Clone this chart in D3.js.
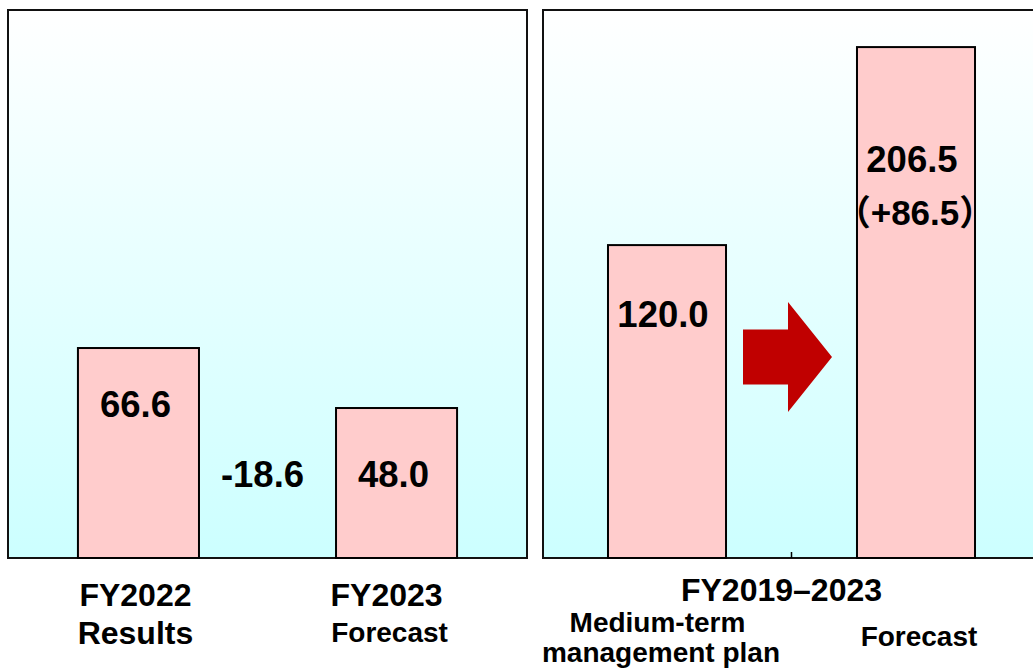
<!DOCTYPE html>
<html>
<head>
<meta charset="utf-8">
<script src="https://cdn.jsdelivr.net/npm/d3@7"></script>
<style>
  html, body { margin: 0; padding: 0; background: #fff; }
  svg { display: block; }
  text { font-family: Arial, "Liberation Sans", "Noto Sans CJK JP", sans-serif; font-weight: bold; fill: #000; }
</style>
</head>
<body>
<svg id="chart" width="1033" height="671"></svg>
<script>
// ---- Data ----
const leftCategories = ["FY2022 Results", "FY2023 Forecast"];
const leftValues = [66.6, 48.0];
const leftTickLines = [["FY2022", "Results"], ["FY2023", "Forecast"]];
const leftDiffLabel = "-18.6";

const rightGroup = "FY2019–2023";
const rightSeries = ["Medium-term management plan", "Forecast"];
const rightValues = [120.0, 206.5];
const rightSeriesLines = [["Medium-term", "management plan"], ["Forecast"]];
const rightDiffLabel = "（+86.5）";

// ---- Layout ----
const svg = d3.select("#chart");
const plotTop = 10, plotBottom = 558;
const leftPanel = { x0: 8, x1: 527 };
const rightPanel = { x0: 543, x1: 1040 };
const fmt = d3.format(".1f");
const valueFont = 36.5, catFont = 32, subFont = 28;

const defs = svg.append("defs");
const grad = defs.append("linearGradient").attr("id", "bg").attr("x1", 0).attr("y1", 0).attr("x2", 0).attr("y2", 1);
grad.append("stop").attr("offset", "0%").attr("stop-color", "#ffffff");
grad.append("stop").attr("offset", "100%").attr("stop-color", "#ccffff");

// Scales
const xL = d3.scaleBand().domain(leftCategories).range([leftPanel.x0, leftPanel.x1])
  .paddingInner(0.531).paddingOuter(0.271);
const yL = d3.scaleLinear().domain([1.5, 171.4]).range([plotBottom, plotTop]);

const xR = d3.scaleBand().domain(rightSeries).range([rightPanel.x0, rightPanel.x1])
  .paddingInner(0.526).paddingOuter(0.261);
const gR = d3.scaleBand().domain([rightGroup]).range([rightPanel.x0, rightPanel.x1]);
const yR = d3.scaleLinear().domain([-16.7, 222.7]).range([plotBottom, plotTop]);

// Panels
[leftPanel, rightPanel].forEach(p => {
  svg.append("rect")
    .attr("x", p.x0).attr("y", plotTop)
    .attr("width", p.x1 - p.x0).attr("height", plotBottom - plotTop)
    .attr("fill", "url(#bg)").attr("stroke", "#111").attr("stroke-width", 2);
});

// Left bars
const lData = leftCategories.map((c, i) => ({ c, v: leftValues[i] }));
svg.append("g").selectAll("rect").data(lData).join("rect")
  .attr("x", d => xL(d.c)).attr("width", xL.bandwidth())
  .attr("y", d => yL(d.v)).attr("height", d => plotBottom - yL(d.v))
  .attr("fill", "#ffcccc").attr("stroke", "#000").attr("stroke-width", 2);

// Right bars
const rData = rightSeries.map((s, i) => ({ s, v: rightValues[i] }));
svg.append("g").selectAll("rect").data(rData).join("rect")
  .attr("x", d => xR(d.s)).attr("width", xR.bandwidth())
  .attr("y", d => yR(d.v)).attr("height", d => plotBottom - yR(d.v))
  .attr("fill", "#ffcccc").attr("stroke", "#000").attr("stroke-width", 2);

// Right axis tick (single group)
const axR = svg.append("g").attr("transform", `translate(0,${plotBottom})`)
  .call(d3.axisBottom(gR).tickSize(-6).tickFormat(""));
axR.select(".domain").remove();
axR.selectAll(".tick line").attr("stroke", "#000").attr("stroke-width", 1.5);

// Left value labels
const lOffsets = [69, 79];
svg.append("g").selectAll("text").data(lData).join("text")
  .attr("x", d => xL(d.c) + xL.bandwidth() / 2 - 3)
  .attr("y", (d, i) => yL(d.v) + lOffsets[i])
  .attr("text-anchor", "middle").attr("font-size", valueFont)
  .text(d => fmt(d.v));

// Difference label (left)
svg.append("text")
  .attr("x", (xL(leftCategories[0]) + xL.bandwidth() + xL(leftCategories[1])) / 2 - 5)
  .attr("y", yL(leftValues[1]) + 79)
  .attr("text-anchor", "middle").attr("font-size", valueFont)
  .text(leftDiffLabel);

// Right value labels
const rOffsets = [82, 125];
svg.append("g").selectAll("text").data(rData).join("text")
  .attr("x", d => xR(d.s) + xR.bandwidth() / 2 - 4)
  .attr("y", (d, i) => yR(d.v) + rOffsets[i])
  .attr("text-anchor", "middle").attr("font-size", valueFont)
  .text(d => fmt(d.v));
svg.append("text")
  .attr("x", xR(rightSeries[1]) + xR.bandwidth() / 2 - 1)
  .attr("y", yR(rightValues[1]) + 178)
  .attr("text-anchor", "middle").attr("font-size", 35)
  .text(rightDiffLabel);

// Arrow between right bars
const acx = gR(rightGroup) + gR.bandwidth() / 2 - 4, acy = 357;
const arrowPts = [
  [-44.5, -27.5], [0.5, -27.5], [0.5, -55], [44.5, 0], [0.5, 55], [0.5, 27.5], [-44.5, 27.5]
];
svg.append("path")
  .attr("d", d3.line()(arrowPts.map(p => [acx + p[0], acy + p[1]])) + "Z")
  .attr("fill", "#c00000");

// Left category labels
const lLabelDx = [-3, -10];
const lLine2Dx = [-3, -7];
leftCategories.forEach((c, i) => {
  const cx = xL(c) + xL.bandwidth() / 2;
  svg.append("text").attr("x", cx + lLabelDx[i]).attr("y", 606)
    .attr("text-anchor", "middle").attr("font-size", catFont).text(leftTickLines[i][0]);
  svg.append("text").attr("x", cx + lLine2Dx[i]).attr("y", i === 0 ? 644 : 642)
    .attr("text-anchor", "middle").attr("font-size", i === 0 ? catFont : subFont).text(leftTickLines[i][1]);
});

// Right group label
svg.append("text")
  .attr("x", gR(rightGroup) + gR.bandwidth() / 2 - 10).attr("y", 601)
  .attr("text-anchor", "middle").attr("font-size", catFont).text(rightGroup);

// Right series labels
const rLineY = [[632, 662], [646]];
const rLineDx = [[-9.5, -6], [3]];
rightSeries.forEach((s, i) => {
  const cx = xR(s) + xR.bandwidth() / 2;
  rightSeriesLines[i].forEach((line, j) => {
    svg.append("text").attr("x", cx + rLineDx[i][j]).attr("y", rLineY[i][j])
      .attr("text-anchor", "middle").attr("font-size", subFont).text(line);
  });
});
</script>
</body>
</html>
